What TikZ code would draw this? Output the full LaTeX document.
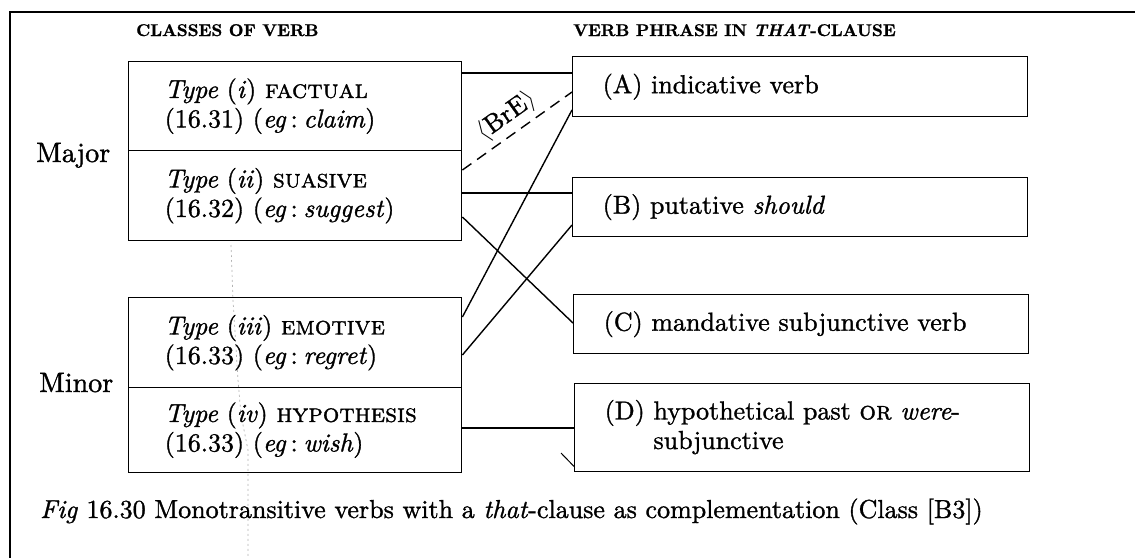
\documentclass[tikz,border=0pt]{standalone}
\usepackage{fontspec}
\setmainfont{lmroman10}[Extension=.otf, UprightFont=*-regular, ItalicFont=*-italic,
  BoldFont=*-bold, BoldItalicFont=*-bolditalic,
  SmallCapsFont=lmromancaps10-regular, FakeBold=1.2]
\usetikzlibrary{calc}
\newcommand\mainfs{\fontsize{26}{29.5}\selectfont}
\newcommand\bigfs{\fontsize{28}{32}\selectfont}
\newcommand\headfs{\fontsize{17}{20}\selectfont\bfseries}
\newcommand\egsep{\,:\hspace{0.22em}}
\tikzset{
  lbox/.style={draw, line width=1.4pt, rectangle, anchor=north west,
    minimum width=333pt, inner xsep=36pt, inner ysep=0pt, text width=261pt,
    align=left, font=\mainfs},
  rbox/.style={draw, line width=1.4pt, rectangle, anchor=north west,
    minimum width=455pt, inner xsep=30pt, inner ysep=0pt, text width=395pt,
    align=left, font=\mainfs},
  lbl/.style={inner sep=0pt, anchor=base west},
  conn/.style={line width=1.4pt},
  dconn/.style={line width=1.4pt, dash pattern=on 11pt off 7pt},
}
\begin{document}
\begin{tikzpicture}[x=1pt,y=-1pt]
\useasboundingbox (0,0) rectangle (1135,558);
% frame
\coordinate (fr1) at (1135,12);
\coordinate (fr2) at (10,12);
\coordinate (fr3) at (10,558);
\draw[line width=1.6pt] (fr1) -- (fr2) -- (fr3);
% scan crease
\coordinate (cr1) at (231,245);
\coordinate (cr2) at (233,300);
\coordinate (cr3) at (238,380);
\coordinate (cr4) at (241,415);
\coordinate (cr5) at (248,450);
\coordinate (cr6) at (248,558);
\draw[gray!60, line width=0.7pt, dash pattern=on 2pt off 3pt]
  (cr1) -- (cr2) -- (cr3) -- (cr4) -- (cr5) -- (cr6);
% headers
\node[lbl, font=\headfs] (h1) at (136,36) {CLASSES OF VERB};
\node[lbl, font=\headfs] (h2) at (573,36) {VERB PHRASE IN \textit{THAT}-CLAUSE};
% left boxes
\node[lbox, minimum height=89pt] (t1) at (128,61)
  {\textit{Type} (\textit{i}) \textsc{factual}\\(16.31) (\textit{eg}\egsep\textit{claim})};
\node[lbox, minimum height=90pt] (t2) at (128,150)
  {\textit{Type} (\textit{ii}) \textsc{suasive}\\(16.32) (\textit{eg}\egsep\textit{suggest})};
\node[lbox, minimum height=90pt] (t3) at (128,297)
  {\textit{Type} (\textit{iii}) \textsc{emotive}\\(16.33) (\textit{eg}\egsep\textit{regret})};
\node[lbox, minimum height=85pt] (t4) at (128,387)
  {\textit{Type} (\textit{iv}) \textsc{hypothesis}\\(16.33) (\textit{eg}\egsep\textit{wish})};
\node[lbl, font=\bigfs] (maj) at (36,162) {Major};
\node[lbl, font=\bigfs] (min) at (39,392) {Minor};
% right boxes
\node[rbox, minimum height=60pt] (A) at (572,56) {(A) indicative verb};
\node[rbox, minimum height=59pt] (B) at (572,177) {(B) putative \textit{should}};
\node[rbox, minimum height=59pt] (C) at (573,294) {(C) mandative subjunctive verb};
\node[rbox, minimum height=88pt] (D) at (574,383)
  {(D) hypothetical past \textsc{or} \textit{were}-\\\phantom{(D) }subjunctive};
% connectors
\draw[conn] ($(t1.north east)+(0,12)$) -- ($(A.north west)+(0,17)$);
\draw[dconn] ($(t2.north east)+(0,20)$) -- ($(A.north west)+(0,36)$)
  node[pos=0.5, sloped, above=5pt, inner sep=0pt, font=\fontsize{26}{30}\selectfont] (bre) {$\langle$BrE$\rangle$};
\draw[conn] ($(t3.north east)+(0,20)$) -- ($(A.north west)+(0,54)$);
\draw[conn] ($(t2.north east)+(0,43)$) -- ($(B.north west)+(0,16)$);
\draw[conn] ($(t2.north east)+(0,67)$) -- ($(C.north west)+(0,29)$);
\draw[conn] ($(t3.north east)+(0,58)$) -- ($(B.north west)+(0,48)$);
\draw[conn] ($(t4.north east)+(0,41)$) -- ($(D.north west)+(0,45)$);
\coordinate (tk) at (561,453);
\draw[line width=1pt] (tk) -- ($(D.south west)+(0,-6)$);
% caption
\node[lbl, font=\mainfs] (cap) at (40,518)
  {\textit{Fig} 16.30 Monotransitive verbs with a \textit{that}-clause as complementation (Class [B3])};
\end{tikzpicture}
\end{document}
